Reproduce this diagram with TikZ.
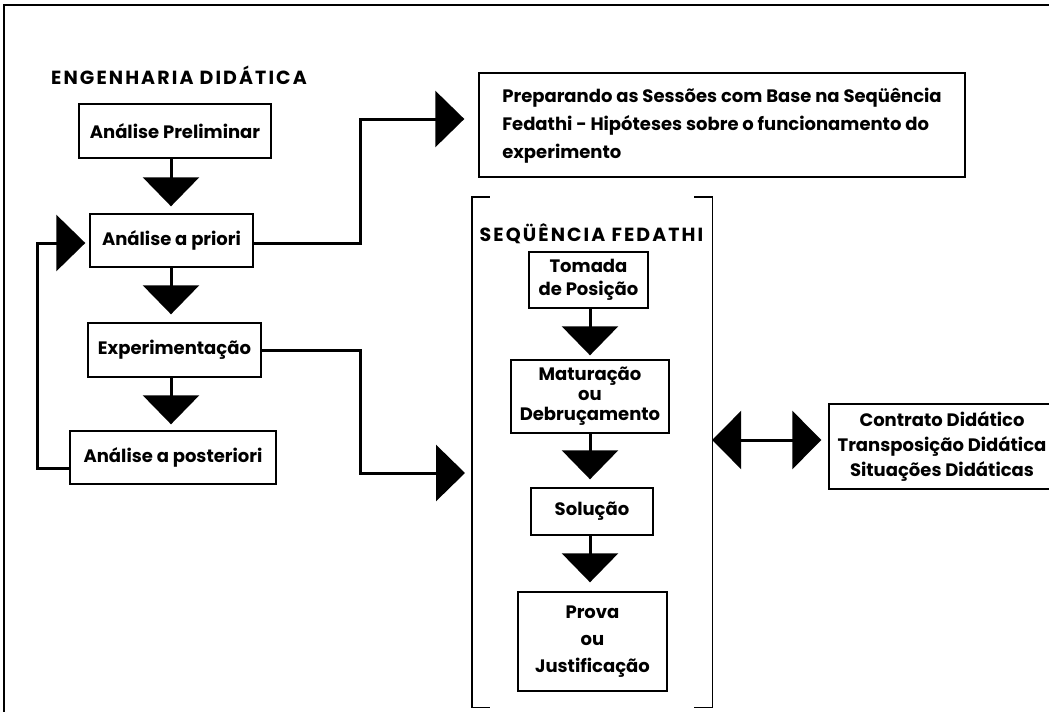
\documentclass[tikz,border=0pt]{standalone}
\usepackage{fontspec}
\setmainfont{Poppins}
\usetikzlibrary{arrows.meta,fit}
\newcommand\dfont[1]{\fontsize{18}{#1}\selectfont\bfseries}
\newcommand\tfont{\fontsize{19}{22}\selectfont\bfseries\addfontfeatures{LetterSpace=11}}
\begin{document}
\begin{tikzpicture}[x=1pt,y=-1pt,
  box/.style={draw,line width=1.4pt,inner sep=0pt,align=center},
  conn/.style={line width=3pt,-{Triangle[length=29pt,width=56pt]}},
  dconn/.style={line width=3pt,{Triangle[length=29pt,width=58pt]}-{Triangle[length=29pt,width=58pt]}},
  brk/.style={line width=1.4pt},
  frm/.style={line width=1.8pt},
  ttl/.style={inner sep=0pt,font=\tfont}
]
\useasboundingbox (0,0) rectangle (1049,712);
% outer frame
\coordinate (fr1) at (1049,5);
\coordinate (fr2) at (4,5);
\coordinate (fr3) at (4,712);
\draw[frm] (fr1) -- (fr2) -- (fr3);

% stem x coordinates
\coordinate (sx) at (171,0);
\coordinate (sy) at (590,0);

% left column
\node[ttl] (eng) at (179,75) {ENGENHARIA DIDÁTICA};
\node[box,minimum width=192pt,minimum height=54pt,font=\dfont{22}] (prel) at (175,131) {Análise Preliminar};
\node[box,minimum width=163pt,minimum height=53pt,font=\dfont{22}] (priori) at (171.5,240.5) {Análise a priori};
\node[box,minimum width=173pt,minimum height=54pt,font=\dfont{22}] (exper) at (174.5,350) {Experimentação};
\node[box,minimum width=206pt,minimum height=53pt,font=\dfont{22}] (poster) at (173,457.5) {Análise a posteriori};

\draw[conn,shorten >=7pt] (prel.south -| sx) -- (priori.north -| sx);
\draw[conn,shorten >=8pt] (priori.south -| sx) -- (exper.north -| sx);
\draw[conn,shorten >=6pt] (exper.south -| sx) -- (poster.north -| sx);
\draw[conn,shorten >=4pt] ([yshift=-10.5pt]poster.west) -- (37,468) -- (37,243) -- ([yshift=-2.5pt]priori.west);

% top right box
\node[box,minimum width=486pt,minimum height=104pt,font=\dfont{28}] (top) at (722,125)
  {\begin{tabular}{@{}l@{}}Preparando as Sessões com Base na Seqüência\\Fedathi - Hipóteses sobre o funcionamento do\\experimento\end{tabular}};
\draw[conn,shorten >=14pt] ([yshift=-2.5pt]priori.east) -- (360,243) -- (360,119) -- ([yshift=6pt]top.west);

% Sequencia Fedathi
\node[inner sep=0pt,fit={(472,197)(712,707)}] (seq) {};
\draw[brk] ([xshift=18pt]seq.north west) -- (seq.north west) -- (seq.south west) -- ([xshift=18pt]seq.south west);
\draw[brk] ([xshift=-18pt]seq.north east) -- (seq.north east) -- (seq.south east) -- ([xshift=-18pt]seq.south east);
\node[ttl] (seqt) at (591.5,234) {SEQÜÊNCIA FEDATHI};
\node[box,minimum width=119pt,minimum height=56pt,font=\dfont{23}] (tom) at (588.5,280) {Tomada\\de Posição};
\node[box,minimum width=158pt,minimum height=73pt,font=\dfont{20}] (mat) at (590,396.5) {Maturação\\ou\\Debruçamento};
\node[box,minimum width=122pt,minimum height=47pt,font=\dfont{22}] (sol) at (592,511.5) {Solução};
\node[box,minimum width=149pt,minimum height=99pt,font=\dfont{27}] (prova) at (592.5,641.5) {Prova\\ou\\Justificação};

\draw[conn,shorten >=4pt] (tom.south -| sy) -- (mat.north -| sy);
\draw[conn,shorten >=8pt] (mat.south -| sy) -- (sol.north -| sy);
\draw[conn,shorten >=9pt] (sol.south -| sy) -- (prova.north -| sy);

\coordinate (seqin) at (472,473);
\draw[conn,shorten >=7pt] (exper.east) -- (360,350) -- (360,473) -- (seqin);

% right box
\node[box,minimum width=226pt,minimum height=85pt,font=\dfont{25}] (contr) at (942,446.5) {Contrato Didático\\Transposição Didática\\Situações Didáticas};
\coordinate (dA) at ([yshift=6.5pt]contr.west);
\draw[dconn,shorten >=7pt] (seq.east |- dA) -- (dA);
\end{tikzpicture}
\end{document}
